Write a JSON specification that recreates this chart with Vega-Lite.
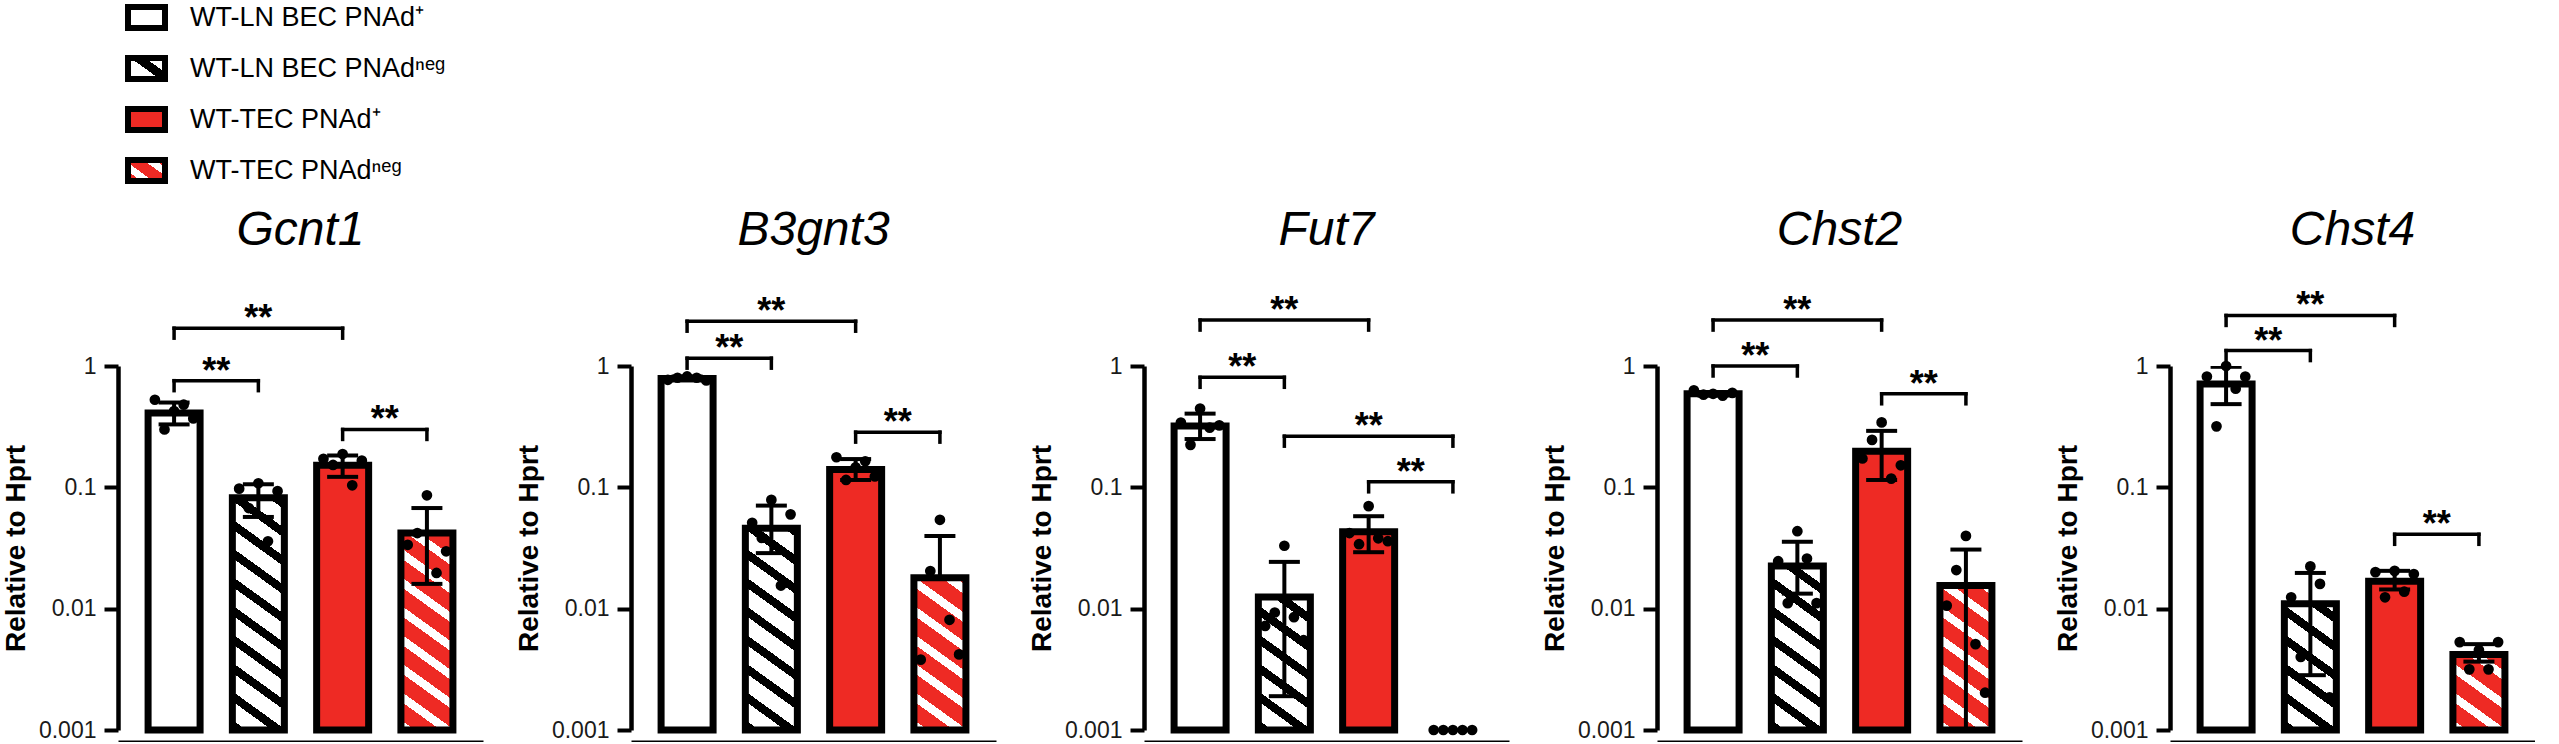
{
  "$schema": "https://vega.github.io/schema/vega-lite/v6.json",
  "background": "white",
  "padding": {"left": 2, "top": 0, "right": 0, "bottom": 0},
  "params": [
    {"name": "hatchBar", "value": {"gradient": "linear", "x1": 1, "y1": 0, "x2": 0.8877, "y2": 1.0914, "stops": [
      {"offset": 0, "color": "#ffffff"}, {"offset": 0.0464, "color": "#ffffff"}, {"offset": 0.0464, "color": "#000000"}, {"offset": 0.0714, "color": "#000000"},
      {"offset": 0.0714, "color": "#ffffff"}, {"offset": 0.1179, "color": "#ffffff"}, {"offset": 0.1179, "color": "#000000"}, {"offset": 0.1429, "color": "#000000"},
      {"offset": 0.1429, "color": "#ffffff"}, {"offset": 0.1893, "color": "#ffffff"}, {"offset": 0.1893, "color": "#000000"}, {"offset": 0.2143, "color": "#000000"},
      {"offset": 0.2143, "color": "#ffffff"}, {"offset": 0.2607, "color": "#ffffff"}, {"offset": 0.2607, "color": "#000000"}, {"offset": 0.2857, "color": "#000000"},
      {"offset": 0.2857, "color": "#ffffff"}, {"offset": 0.3321, "color": "#ffffff"}, {"offset": 0.3321, "color": "#000000"}, {"offset": 0.3571, "color": "#000000"},
      {"offset": 0.3571, "color": "#ffffff"}, {"offset": 0.4036, "color": "#ffffff"}, {"offset": 0.4036, "color": "#000000"}, {"offset": 0.4286, "color": "#000000"},
      {"offset": 0.4286, "color": "#ffffff"}, {"offset": 0.475, "color": "#ffffff"}, {"offset": 0.475, "color": "#000000"}, {"offset": 0.5, "color": "#000000"},
      {"offset": 0.5, "color": "#ffffff"}, {"offset": 0.5464, "color": "#ffffff"}, {"offset": 0.5464, "color": "#000000"}, {"offset": 0.5714, "color": "#000000"},
      {"offset": 0.5714, "color": "#ffffff"}, {"offset": 0.6179, "color": "#ffffff"}, {"offset": 0.6179, "color": "#000000"}, {"offset": 0.6429, "color": "#000000"},
      {"offset": 0.6429, "color": "#ffffff"}, {"offset": 0.6893, "color": "#ffffff"}, {"offset": 0.6893, "color": "#000000"}, {"offset": 0.7143, "color": "#000000"},
      {"offset": 0.7143, "color": "#ffffff"}, {"offset": 0.7607, "color": "#ffffff"}, {"offset": 0.7607, "color": "#000000"}, {"offset": 0.7857, "color": "#000000"},
      {"offset": 0.7857, "color": "#ffffff"}, {"offset": 0.8321, "color": "#ffffff"}, {"offset": 0.8321, "color": "#000000"}, {"offset": 0.8571, "color": "#000000"},
      {"offset": 0.8571, "color": "#ffffff"}, {"offset": 0.9036, "color": "#ffffff"}, {"offset": 0.9036, "color": "#000000"}, {"offset": 0.9286, "color": "#000000"},
      {"offset": 0.9286, "color": "#ffffff"}, {"offset": 0.975, "color": "#ffffff"}, {"offset": 0.975, "color": "#000000"}, {"offset": 1, "color": "#000000"}
    ]}},
    {"name": "hatchRedBar", "value": {"gradient": "linear", "x1": 1, "y1": 0, "x2": 0.8877, "y2": 1.0914, "stops": [
      {"offset": 0, "color": "#ee2a24"}, {"offset": 0.0464, "color": "#ee2a24"}, {"offset": 0.0464, "color": "#ffffff"}, {"offset": 0.0714, "color": "#ffffff"},
      {"offset": 0.0714, "color": "#ee2a24"}, {"offset": 0.1179, "color": "#ee2a24"}, {"offset": 0.1179, "color": "#ffffff"}, {"offset": 0.1429, "color": "#ffffff"},
      {"offset": 0.1429, "color": "#ee2a24"}, {"offset": 0.1893, "color": "#ee2a24"}, {"offset": 0.1893, "color": "#ffffff"}, {"offset": 0.2143, "color": "#ffffff"},
      {"offset": 0.2143, "color": "#ee2a24"}, {"offset": 0.2607, "color": "#ee2a24"}, {"offset": 0.2607, "color": "#ffffff"}, {"offset": 0.2857, "color": "#ffffff"},
      {"offset": 0.2857, "color": "#ee2a24"}, {"offset": 0.3321, "color": "#ee2a24"}, {"offset": 0.3321, "color": "#ffffff"}, {"offset": 0.3571, "color": "#ffffff"},
      {"offset": 0.3571, "color": "#ee2a24"}, {"offset": 0.4036, "color": "#ee2a24"}, {"offset": 0.4036, "color": "#ffffff"}, {"offset": 0.4286, "color": "#ffffff"},
      {"offset": 0.4286, "color": "#ee2a24"}, {"offset": 0.475, "color": "#ee2a24"}, {"offset": 0.475, "color": "#ffffff"}, {"offset": 0.5, "color": "#ffffff"},
      {"offset": 0.5, "color": "#ee2a24"}, {"offset": 0.5464, "color": "#ee2a24"}, {"offset": 0.5464, "color": "#ffffff"}, {"offset": 0.5714, "color": "#ffffff"},
      {"offset": 0.5714, "color": "#ee2a24"}, {"offset": 0.6179, "color": "#ee2a24"}, {"offset": 0.6179, "color": "#ffffff"}, {"offset": 0.6429, "color": "#ffffff"},
      {"offset": 0.6429, "color": "#ee2a24"}, {"offset": 0.6893, "color": "#ee2a24"}, {"offset": 0.6893, "color": "#ffffff"}, {"offset": 0.7143, "color": "#ffffff"},
      {"offset": 0.7143, "color": "#ee2a24"}, {"offset": 0.7607, "color": "#ee2a24"}, {"offset": 0.7607, "color": "#ffffff"}, {"offset": 0.7857, "color": "#ffffff"},
      {"offset": 0.7857, "color": "#ee2a24"}, {"offset": 0.8321, "color": "#ee2a24"}, {"offset": 0.8321, "color": "#ffffff"}, {"offset": 0.8571, "color": "#ffffff"},
      {"offset": 0.8571, "color": "#ee2a24"}, {"offset": 0.9036, "color": "#ee2a24"}, {"offset": 0.9036, "color": "#ffffff"}, {"offset": 0.9286, "color": "#ffffff"},
      {"offset": 0.9286, "color": "#ee2a24"}, {"offset": 0.975, "color": "#ee2a24"}, {"offset": 0.975, "color": "#ffffff"}, {"offset": 1, "color": "#ffffff"}
    ]}},
    {"name": "hatchKey", "value": {"gradient": "linear", "x1": 1, "y1": 0, "x2": -0.103, "y2": 0.869, "stops": [
      {"offset": 0, "color": "#ffffff"}, {"offset": 0.3, "color": "#ffffff"}, {"offset": 0.3, "color": "#000000"},
      {"offset": 0.52, "color": "#000000"}, {"offset": 0.52, "color": "#ffffff"}, {"offset": 1, "color": "#ffffff"}
    ]}},
    {"name": "hatchRedKey", "value": {"gradient": "linear", "x1": 1, "y1": 0, "x2": -0.103, "y2": 0.869, "stops": [
      {"offset": 0, "color": "#ee2a24"}, {"offset": 0.15, "color": "#ee2a24"}, {"offset": 0.15, "color": "#ffffff"},
      {"offset": 0.33, "color": "#ffffff"}, {"offset": 0.33, "color": "#ee2a24"}, {"offset": 0.62, "color": "#ee2a24"},
      {"offset": 0.62, "color": "#ffffff"}, {"offset": 0.8, "color": "#ffffff"}, {"offset": 0.8, "color": "#ee2a24"}, {"offset": 1, "color": "#ee2a24"}
    ]}}
  ],
  "data": {"values": [
    {"kind": "bar", "gene": "Gcnt1", "g": 1, "grp": "WT-LN BEC PNAd⁺", "mean": 0.41, "lo": 0.33, "hi": 0.5},
    {"kind": "bar", "gene": "Gcnt1", "g": 2, "grp": "WT-LN BEC PNAdⁿᵉᵍ", "mean": 0.082, "lo": 0.057, "hi": 0.106},
    {"kind": "bar", "gene": "Gcnt1", "g": 3, "grp": "WT-TEC PNAd⁺", "mean": 0.152, "lo": 0.122, "hi": 0.183},
    {"kind": "bar", "gene": "Gcnt1", "g": 4, "grp": "WT-TEC PNAdⁿᵉᵍ", "mean": 0.042, "lo": 0.016, "hi": 0.0675},
    {"kind": "bar", "gene": "B3gnt3", "g": 1, "grp": "WT-LN BEC PNAd⁺", "mean": 0.79, "lo": 0.76, "hi": 0.82},
    {"kind": "bar", "gene": "B3gnt3", "g": 2, "grp": "WT-LN BEC PNAdⁿᵉᵍ", "mean": 0.046, "lo": 0.0287, "hi": 0.0707},
    {"kind": "bar", "gene": "B3gnt3", "g": 3, "grp": "WT-TEC PNAd⁺", "mean": 0.14, "lo": 0.115, "hi": 0.171},
    {"kind": "bar", "gene": "B3gnt3", "g": 4, "grp": "WT-TEC PNAdⁿᵉᵍ", "mean": 0.018, "lo": null, "hi": 0.0397},
    {"kind": "bar", "gene": "Fut7", "g": 1, "grp": "WT-LN BEC PNAd⁺", "mean": 0.32, "lo": 0.25, "hi": 0.405},
    {"kind": "bar", "gene": "Fut7", "g": 2, "grp": "WT-LN BEC PNAdⁿᵉᵍ", "mean": 0.0125, "lo": 0.0019, "hi": 0.0243},
    {"kind": "bar", "gene": "Fut7", "g": 3, "grp": "WT-TEC PNAd⁺", "mean": 0.043, "lo": 0.0292, "hi": 0.0578},
    {"kind": "bar", "gene": "Fut7", "g": 4, "grp": "WT-TEC PNAdⁿᵉᵍ", "mean": 0.001, "lo": null, "hi": null},
    {"kind": "bar", "gene": "Chst2", "g": 1, "grp": "WT-LN BEC PNAd⁺", "mean": 0.59, "lo": 0.57, "hi": 0.61},
    {"kind": "bar", "gene": "Chst2", "g": 2, "grp": "WT-LN BEC PNAdⁿᵉᵍ", "mean": 0.0225, "lo": 0.0133, "hi": 0.0356},
    {"kind": "bar", "gene": "Chst2", "g": 3, "grp": "WT-TEC PNAd⁺", "mean": 0.198, "lo": 0.115, "hi": 0.292},
    {"kind": "bar", "gene": "Chst2", "g": 4, "grp": "WT-TEC PNAdⁿᵉᵍ", "mean": 0.0155, "lo": 0.0004, "hi": 0.0307},
    {"kind": "bar", "gene": "Chst4", "g": 1, "grp": "WT-LN BEC PNAd⁺", "mean": 0.71, "lo": 0.485, "hi": 0.985},
    {"kind": "bar", "gene": "Chst4", "g": 2, "grp": "WT-LN BEC PNAdⁿᵉᵍ", "mean": 0.011, "lo": 0.00283, "hi": 0.0197},
    {"kind": "bar", "gene": "Chst4", "g": 3, "grp": "WT-TEC PNAd⁺", "mean": 0.0168, "lo": 0.0144, "hi": 0.0205},
    {"kind": "bar", "gene": "Chst4", "g": 4, "grp": "WT-TEC PNAdⁿᵉᵍ", "mean": 0.0042, "lo": 0.00366, "hi": 0.0051},

    {"kind": "pt", "gene": "Gcnt1", "g": 1, "rep": 1, "v": 0.527},
    {"kind": "pt", "gene": "Gcnt1", "g": 1, "rep": 2, "v": 0.3},
    {"kind": "pt", "gene": "Gcnt1", "g": 1, "rep": 3, "v": 0.425},
    {"kind": "pt", "gene": "Gcnt1", "g": 1, "rep": 4, "v": 0.48},
    {"kind": "pt", "gene": "Gcnt1", "g": 1, "rep": 5, "v": 0.37},
    {"kind": "pt", "gene": "Gcnt1", "g": 2, "rep": 1, "v": 0.0975},
    {"kind": "pt", "gene": "Gcnt1", "g": 2, "rep": 2, "v": 0.0675},
    {"kind": "pt", "gene": "Gcnt1", "g": 2, "rep": 3, "v": 0.108},
    {"kind": "pt", "gene": "Gcnt1", "g": 2, "rep": 4, "v": 0.0359},
    {"kind": "pt", "gene": "Gcnt1", "g": 2, "rep": 5, "v": 0.093},
    {"kind": "pt", "gene": "Gcnt1", "g": 3, "rep": 1, "v": 0.172},
    {"kind": "pt", "gene": "Gcnt1", "g": 3, "rep": 2, "v": 0.153},
    {"kind": "pt", "gene": "Gcnt1", "g": 3, "rep": 3, "v": 0.188},
    {"kind": "pt", "gene": "Gcnt1", "g": 3, "rep": 4, "v": 0.104},
    {"kind": "pt", "gene": "Gcnt1", "g": 3, "rep": 5, "v": 0.166},
    {"kind": "pt", "gene": "Gcnt1", "g": 4, "rep": 1, "v": 0.0336},
    {"kind": "pt", "gene": "Gcnt1", "g": 4, "rep": 2, "v": 0.042},
    {"kind": "pt", "gene": "Gcnt1", "g": 4, "rep": 3, "v": 0.086},
    {"kind": "pt", "gene": "Gcnt1", "g": 4, "rep": 4, "v": 0.0197},
    {"kind": "pt", "gene": "Gcnt1", "g": 4, "rep": 5, "v": 0.0297},
    {"kind": "pt", "gene": "B3gnt3", "g": 1, "rep": 1, "v": 0.77},
    {"kind": "pt", "gene": "B3gnt3", "g": 1, "rep": 2, "v": 0.8},
    {"kind": "pt", "gene": "B3gnt3", "g": 1, "rep": 3, "v": 0.82},
    {"kind": "pt", "gene": "B3gnt3", "g": 1, "rep": 4, "v": 0.8},
    {"kind": "pt", "gene": "B3gnt3", "g": 1, "rep": 5, "v": 0.76},
    {"kind": "pt", "gene": "B3gnt3", "g": 2, "rep": 1, "v": 0.051},
    {"kind": "pt", "gene": "B3gnt3", "g": 2, "rep": 2, "v": 0.0383},
    {"kind": "pt", "gene": "B3gnt3", "g": 2, "rep": 3, "v": 0.0788},
    {"kind": "pt", "gene": "B3gnt3", "g": 2, "rep": 4, "v": 0.0155},
    {"kind": "pt", "gene": "B3gnt3", "g": 2, "rep": 5, "v": 0.0599},
    {"kind": "pt", "gene": "B3gnt3", "g": 3, "rep": 1, "v": 0.177},
    {"kind": "pt", "gene": "B3gnt3", "g": 3, "rep": 2, "v": 0.115},
    {"kind": "pt", "gene": "B3gnt3", "g": 3, "rep": 3, "v": 0.146},
    {"kind": "pt", "gene": "B3gnt3", "g": 3, "rep": 4, "v": 0.164},
    {"kind": "pt", "gene": "B3gnt3", "g": 3, "rep": 5, "v": 0.123},
    {"kind": "pt", "gene": "B3gnt3", "g": 4, "rep": 1, "v": 0.0038},
    {"kind": "pt", "gene": "B3gnt3", "g": 4, "rep": 2, "v": 0.0204},
    {"kind": "pt", "gene": "B3gnt3", "g": 4, "rep": 3, "v": 0.054},
    {"kind": "pt", "gene": "B3gnt3", "g": 4, "rep": 4, "v": 0.0081},
    {"kind": "pt", "gene": "B3gnt3", "g": 4, "rep": 5, "v": 0.0042},
    {"kind": "pt", "gene": "Fut7", "g": 1, "rep": 1, "v": 0.342},
    {"kind": "pt", "gene": "Fut7", "g": 1, "rep": 2, "v": 0.224},
    {"kind": "pt", "gene": "Fut7", "g": 1, "rep": 3, "v": 0.446},
    {"kind": "pt", "gene": "Fut7", "g": 1, "rep": 4, "v": 0.31},
    {"kind": "pt", "gene": "Fut7", "g": 1, "rep": 5, "v": 0.324},
    {"kind": "pt", "gene": "Fut7", "g": 2, "rep": 1, "v": 0.0072},
    {"kind": "pt", "gene": "Fut7", "g": 2, "rep": 2, "v": 0.0093},
    {"kind": "pt", "gene": "Fut7", "g": 2, "rep": 3, "v": 0.033},
    {"kind": "pt", "gene": "Fut7", "g": 2, "rep": 4, "v": 0.0085},
    {"kind": "pt", "gene": "Fut7", "g": 2, "rep": 5, "v": 0.0055},
    {"kind": "pt", "gene": "Fut7", "g": 3, "rep": 1, "v": 0.042},
    {"kind": "pt", "gene": "Fut7", "g": 3, "rep": 2, "v": 0.034},
    {"kind": "pt", "gene": "Fut7", "g": 3, "rep": 3, "v": 0.07},
    {"kind": "pt", "gene": "Fut7", "g": 3, "rep": 4, "v": 0.038},
    {"kind": "pt", "gene": "Fut7", "g": 3, "rep": 5, "v": 0.036},
    {"kind": "pt", "gene": "Fut7", "g": 4, "rep": 1, "v": 0.001},
    {"kind": "pt", "gene": "Fut7", "g": 4, "rep": 2, "v": 0.001},
    {"kind": "pt", "gene": "Fut7", "g": 4, "rep": 3, "v": 0.001},
    {"kind": "pt", "gene": "Fut7", "g": 4, "rep": 4, "v": 0.001},
    {"kind": "pt", "gene": "Fut7", "g": 4, "rep": 5, "v": 0.001},
    {"kind": "pt", "gene": "Chst2", "g": 1, "rep": 1, "v": 0.63},
    {"kind": "pt", "gene": "Chst2", "g": 1, "rep": 2, "v": 0.58},
    {"kind": "pt", "gene": "Chst2", "g": 1, "rep": 3, "v": 0.59},
    {"kind": "pt", "gene": "Chst2", "g": 1, "rep": 4, "v": 0.57},
    {"kind": "pt", "gene": "Chst2", "g": 1, "rep": 5, "v": 0.6},
    {"kind": "pt", "gene": "Chst2", "g": 2, "rep": 1, "v": 0.0246},
    {"kind": "pt", "gene": "Chst2", "g": 2, "rep": 2, "v": 0.0111},
    {"kind": "pt", "gene": "Chst2", "g": 2, "rep": 3, "v": 0.0435},
    {"kind": "pt", "gene": "Chst2", "g": 2, "rep": 4, "v": 0.0259},
    {"kind": "pt", "gene": "Chst2", "g": 2, "rep": 5, "v": 0.0111},
    {"kind": "pt", "gene": "Chst2", "g": 3, "rep": 1, "v": 0.173},
    {"kind": "pt", "gene": "Chst2", "g": 3, "rep": 2, "v": 0.246},
    {"kind": "pt", "gene": "Chst2", "g": 3, "rep": 3, "v": 0.343},
    {"kind": "pt", "gene": "Chst2", "g": 3, "rep": 4, "v": 0.118},
    {"kind": "pt", "gene": "Chst2", "g": 3, "rep": 5, "v": 0.152},
    {"kind": "pt", "gene": "Chst2", "g": 4, "rep": 1, "v": 0.0106},
    {"kind": "pt", "gene": "Chst2", "g": 4, "rep": 2, "v": 0.0208},
    {"kind": "pt", "gene": "Chst2", "g": 4, "rep": 3, "v": 0.0398},
    {"kind": "pt", "gene": "Chst2", "g": 4, "rep": 4, "v": 0.0051},
    {"kind": "pt", "gene": "Chst2", "g": 4, "rep": 5, "v": 0.00203},
    {"kind": "pt", "gene": "Chst4", "g": 1, "rep": 1, "v": 0.819},
    {"kind": "pt", "gene": "Chst4", "g": 1, "rep": 2, "v": 0.318},
    {"kind": "pt", "gene": "Chst4", "g": 1, "rep": 3, "v": 1.0},
    {"kind": "pt", "gene": "Chst4", "g": 1, "rep": 4, "v": 0.65},
    {"kind": "pt", "gene": "Chst4", "g": 1, "rep": 5, "v": 0.819},
    {"kind": "pt", "gene": "Chst4", "g": 2, "rep": 1, "v": 0.0124},
    {"kind": "pt", "gene": "Chst4", "g": 2, "rep": 2, "v": 0.004},
    {"kind": "pt", "gene": "Chst4", "g": 2, "rep": 3, "v": 0.0223},
    {"kind": "pt", "gene": "Chst4", "g": 2, "rep": 4, "v": 0.016},
    {"kind": "pt", "gene": "Chst4", "g": 2, "rep": 5, "v": 0.00186},
    {"kind": "pt", "gene": "Chst4", "g": 3, "rep": 1, "v": 0.02},
    {"kind": "pt", "gene": "Chst4", "g": 3, "rep": 2, "v": 0.0124},
    {"kind": "pt", "gene": "Chst4", "g": 3, "rep": 3, "v": 0.0205},
    {"kind": "pt", "gene": "Chst4", "g": 3, "rep": 4, "v": 0.0138},
    {"kind": "pt", "gene": "Chst4", "g": 3, "rep": 5, "v": 0.0193},
    {"kind": "pt", "gene": "Chst4", "g": 4, "rep": 1, "v": 0.0053},
    {"kind": "pt", "gene": "Chst4", "g": 4, "rep": 2, "v": 0.00316},
    {"kind": "pt", "gene": "Chst4", "g": 4, "rep": 3, "v": 0.00457},
    {"kind": "pt", "gene": "Chst4", "g": 4, "rep": 4, "v": 0.00316},
    {"kind": "pt", "gene": "Chst4", "g": 4, "rep": 5, "v": 0.0053},

    {"kind": "br", "gene": "Gcnt1", "from": 1, "to": 3, "by": 2.05, "label": "**"},
    {"kind": "br", "gene": "Gcnt1", "from": 1, "to": 2, "by": 0.757, "label": "**"},
    {"kind": "br", "gene": "Gcnt1", "from": 3, "to": 4, "by": 0.3, "label": "**"},
    {"kind": "br", "gene": "B3gnt3", "from": 1, "to": 3, "by": 2.34, "label": "**"},
    {"kind": "br", "gene": "B3gnt3", "from": 1, "to": 2, "by": 1.16, "label": "**"},
    {"kind": "br", "gene": "B3gnt3", "from": 3, "to": 4, "by": 0.285, "label": "**"},
    {"kind": "br", "gene": "Fut7", "from": 1, "to": 3, "by": 2.39, "label": "**"},
    {"kind": "br", "gene": "Fut7", "from": 1, "to": 2, "by": 0.807, "label": "**"},
    {"kind": "br", "gene": "Fut7", "from": 2, "to": 4, "by": 0.264, "label": "**"},
    {"kind": "br", "gene": "Fut7", "from": 3, "to": 4, "by": 0.111, "label": "**"},
    {"kind": "br", "gene": "Chst2", "from": 1, "to": 3, "by": 2.39, "label": "**"},
    {"kind": "br", "gene": "Chst2", "from": 1, "to": 2, "by": 1.0, "label": "**"},
    {"kind": "br", "gene": "Chst2", "from": 3, "to": 4, "by": 0.59, "label": "**"},
    {"kind": "br", "gene": "Chst4", "from": 1, "to": 3, "by": 2.61, "label": "**"},
    {"kind": "br", "gene": "Chst4", "from": 1, "to": 2, "by": 1.34, "label": "**"},
    {"kind": "br", "gene": "Chst4", "from": 3, "to": 4, "by": 0.041, "label": "**"}
  ]},
  "facet": {
    "column": {
      "field": "gene",
      "type": "nominal",
      "sort": ["Gcnt1", "B3gnt3", "Fut7", "Chst2", "Chst4"],
      "title": null,
      "header": {"labelFontSize": 48, "labelFontStyle": "italic", "labelFont": "Liberation Sans", "labelColor": "black", "labelPadding": 33}
    }
  },
  "spacing": {"column": 32},
  "resolve": {"axis": {"y": "independent"}},
  "spec": {
    "width": 365,
    "height": 364,
    "resolve": {"scale": {"xOffset": "independent"}},
    "layer": [
      {
        "transform": [{"filter": "datum.kind == 'bar'"}],
        "mark": {"type": "bar", "strokeWidth": 0},
        "encoding": {
          "x": {"field": "g", "type": "ordinal", "title": null,
                "scale": {"type": "band", "domain": [1, 2, 3, 4], "paddingInner": 0.383, "paddingOuter": 0.357}},
          "y": {"datum": 0.001, "type": "quantitative", "title": "Relative to Hprt",
                "scale": {"type": "log", "domain": [0.001, 1]},
                "axis": {"values": [0.001, 0.01, 0.1, 1], "format": "~g", "title": "Relative to Hprt"}},
          "y2": {"datum": 1},
          "color": {"field": "g", "type": "ordinal", "legend": null,
                    "scale": {"domain": [1, 2, 3, 4],
                              "range": ["#ffffff", {"expr": "hatchBar"}, "#ee2a24", {"expr": "hatchRedBar"}]}}
        }
      },
      {
        "transform": [{"filter": "datum.kind == 'bar'"}],
        "mark": {"type": "bar", "color": "#ffffff", "stroke": "#ffffff", "strokeWidth": 2},
        "encoding": {
          "x": {"field": "g", "type": "ordinal", "title": null},
          "y": {"field": "mean", "type": "quantitative", "title": "Relative to Hprt"},
          "y2": {"datum": 1}
        }
      },
      {
        "transform": [{"filter": "datum.kind == 'bar' && datum.mean > 0.001"}],
        "mark": {"type": "bar", "stroke": "black", "strokeWidth": 7, "fill": "transparent"},
        "encoding": {
          "x": {"field": "g", "type": "ordinal", "title": null},
          "y": {"field": "mean", "type": "quantitative", "title": "Relative to Hprt"},
          "y2": {"datum": 0.001}
        }
      },
      {
        "transform": [{"filter": "datum.kind == 'key'"}],
        "mark": {"type": "bar"},
        "encoding": {
          "x": {"field": "g", "type": "ordinal", "title": null},
          "y": {"field": "mean", "type": "quantitative", "title": "Relative to Hprt"},
          "fill": {"field": "grp", "type": "nominal",
                   "scale": {"domain": ["WT-LN BEC PNAd⁺", "WT-LN BEC PNAdⁿᵉᵍ", "WT-TEC PNAd⁺", "WT-TEC PNAdⁿᵉᵍ"],
                             "range": ["#ffffff", {"expr": "hatchKey"}, "#ee2a24", {"expr": "hatchRedKey"}]},
                   "legend": {"title": null, "orient": "none", "legendX": 11, "legendY": -366, "direction": "vertical",
                              "symbolType": "M-1.3,-0.74H1.3V0.74H-1.3Z", "symbolSize": 810, "symbolOpacity": 1,
                              "symbolStrokeWidth": 6, "symbolStrokeColor": "black",
                              "labelFontSize": 27, "labelFont": "Liberation Sans", "labelColor": "black",
                              "labelOffset": 26, "rowPadding": 4, "labelLimit": 600}}
        }
      },
      {
        "transform": [{"filter": "datum.kind == 'bar' && isValid(datum.hi)"}],
        "mark": {"type": "rule", "strokeWidth": 4, "color": "black", "clip": true},
        "encoding": {
          "x": {"field": "g", "type": "ordinal", "title": null},
          "y": {"field": "mean", "type": "quantitative", "title": "Relative to Hprt"},
          "y2": {"field": "hi"}
        }
      },
      {
        "transform": [{"filter": "datum.kind == 'bar' && isValid(datum.lo)"}],
        "mark": {"type": "rule", "strokeWidth": 4, "color": "black", "clip": true},
        "encoding": {
          "x": {"field": "g", "type": "ordinal", "title": null},
          "y": {"field": "lo", "type": "quantitative", "title": "Relative to Hprt"},
          "y2": {"field": "mean"}
        }
      },
      {
        "transform": [{"filter": "datum.kind == 'bar' && isValid(datum.hi)"}],
        "mark": {"type": "tick", "thickness": 4, "size": 31, "color": "black", "opacity": 1, "clip": true},
        "encoding": {
          "x": {"field": "g", "type": "ordinal", "title": null},
          "y": {"field": "hi", "type": "quantitative", "title": "Relative to Hprt"}
        }
      },
      {
        "transform": [{"filter": "datum.kind == 'bar' && isValid(datum.lo)"}],
        "mark": {"type": "tick", "thickness": 4, "size": 31, "color": "black", "opacity": 1, "clip": true},
        "encoding": {
          "x": {"field": "g", "type": "ordinal", "title": null},
          "y": {"field": "lo", "type": "quantitative", "title": "Relative to Hprt"}
        }
      },
      {
        "transform": [{"filter": "datum.kind == 'pt'"}],
        "mark": {"type": "point", "filled": true, "shape": "circle", "size": 115, "color": "black", "opacity": 1},
        "encoding": {
          "x": {"field": "g", "type": "ordinal", "title": null},
          "xOffset": {"field": "rep", "type": "ordinal", "scale": {"type": "point", "range": [2, 50]}},
          "y": {"field": "v", "type": "quantitative", "title": "Relative to Hprt"}
        }
      },
      {
        "transform": [{"filter": "datum.kind == 'br'"}],
        "mark": {"type": "rule", "strokeWidth": 3.5, "color": "black", "strokeCap": "square"},
        "encoding": {
          "x": {"field": "from", "type": "ordinal", "title": null},
          "x2": {"field": "to"},
          "y": {"field": "by", "type": "quantitative", "title": "Relative to Hprt"}
        }
      },
      {
        "transform": [{"filter": "datum.kind == 'br'"}],
        "mark": {"type": "rule", "strokeWidth": 3.5, "color": "black", "strokeCap": "square", "y2Offset": 10},
        "encoding": {
          "x": {"field": "from", "type": "ordinal", "title": null},
          "y": {"field": "by", "type": "quantitative", "title": "Relative to Hprt"},
          "y2": {"field": "by"}
        }
      },
      {
        "transform": [{"filter": "datum.kind == 'br'"}],
        "mark": {"type": "rule", "strokeWidth": 3.5, "color": "black", "strokeCap": "square", "y2Offset": 10},
        "encoding": {
          "x": {"field": "to", "type": "ordinal", "title": null},
          "y": {"field": "by", "type": "quantitative", "title": "Relative to Hprt"},
          "y2": {"field": "by"}
        }
      },
      {
        "transform": [{"filter": "datum.kind == 'br' && datum.to - datum.from == 1"}],
        "mark": {"type": "text", "fontSize": 36, "fontWeight": "bold", "baseline": "alphabetic", "dy": 2, "dx": 42.14, "color": "black"},
        "encoding": {
          "x": {"field": "from", "type": "ordinal", "title": null},
          "y": {"field": "by", "type": "quantitative", "title": "Relative to Hprt"},
          "text": {"field": "label"}
        }
      },
      {
        "transform": [{"filter": "datum.kind == 'br' && datum.to - datum.from == 2"}],
        "mark": {"type": "text", "fontSize": 36, "fontWeight": "bold", "baseline": "alphabetic", "dy": 2, "dx": 84.28, "color": "black"},
        "encoding": {
          "x": {"field": "from", "type": "ordinal", "title": null},
          "y": {"field": "by", "type": "quantitative", "title": "Relative to Hprt"},
          "text": {"field": "label"}
        }
      }
    ]
  },
  "config": {
    "font": "Liberation Sans",
    "view": {"stroke": null},
    "axisX": {"labels": false, "ticks": false, "domainWidth": 4, "domainColor": "black", "grid": false},
    "axisY": {"grid": false,
              "titleFont": "Liberation Sans", "titleFontSize": 28, "titleFontWeight": "bold", "titleColor": "black", "titlePadding": 8,
              "labelFont": "Liberation Sans", "labelFontSize": 23, "labelColor": "#1a1a1a", "labelPadding": 8,
              "tickSize": 14, "tickWidth": 4, "tickColor": "black", "domainWidth": 4.5, "domainColor": "black"}
  }
}
